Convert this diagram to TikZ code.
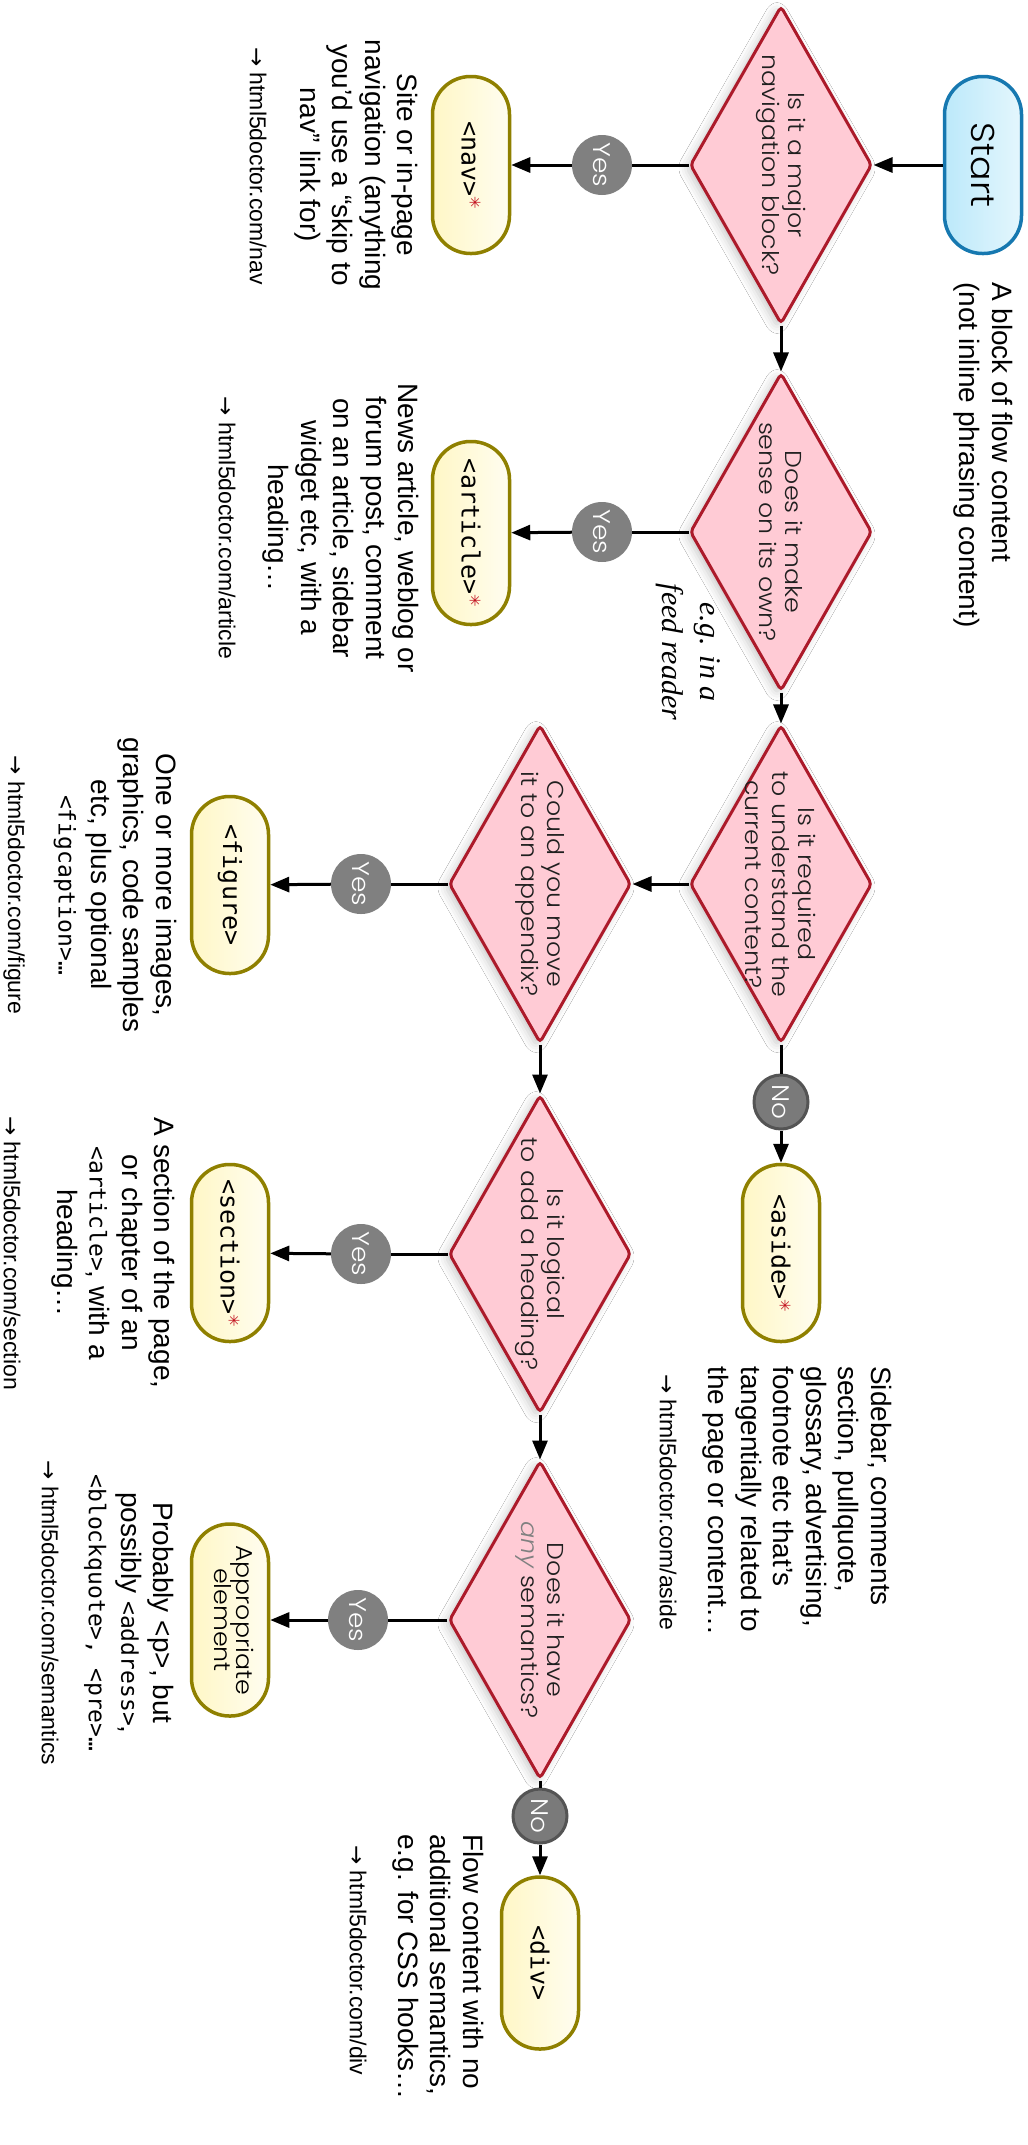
\documentclass[tikz,border=0pt]{standalone}
\usepackage{fontspec}
\usepackage{graphicx}
\usetikzlibrary{shapes.geometric,arrows.meta,shadows.blur}
\setmainfont{Liberation Sans}
\IfFontExistsTF{Poppins Light}{\newfontfamily\geo{Poppins Light}[FakeStretch=1.1]}{\newfontfamily\geo{Poppins}[FakeStretch=1.05]}
\newfontfamily\mono{DejaVu Sans Mono}
\newfontfamily\serfont{Liberation Serif}
\newfontfamily\arrfont{DejaVu Sans}
\definecolor{dfill}{RGB}{255,203,213}
\definecolor{dline}{RGB}{172,26,42}
\definecolor{tyA}{RGB}{255,247,198}
\definecolor{tyB}{RGB}{255,253,240}
\definecolor{tline}{RGB}{143,128,0}
\definecolor{sbA}{RGB}{188,233,250}
\definecolor{sbB}{RGB}{228,246,253}
\definecolor{sline}{RGB}{22,120,176}
\definecolor{ygray}{RGB}{128,128,128}
\definecolor{ngray}{RGB}{122,122,122}
\definecolor{nline}{RGB}{84,84,84}
\definecolor{astc}{RGB}{196,20,34}
\newcommand{\redast}{\raisebox{8pt}{\arrfont\fontsize{15}{15}\selectfont\color{astc}✳}}
\newcommand{\lnk}[1]{{\arrfont →} html5doctor.com/#1}
\tikzset{
  dia/.style={diamond, draw=dline, fill=dfill, line width=3pt,
    minimum width=182pt, minimum height=318pt, inner sep=0pt, rounded corners=4pt,
    blur shadow={shadow xshift=-4pt, shadow yshift=-3pt, shadow blur radius=9pt, shadow opacity=22}},
  qtext/.style={rotate=-90, align=center, inner sep=0pt, text=black!88,
    font=\geo\fontsize{23}{26.5}\selectfont},
  term/.style={rectangle, rounded corners=38pt, draw=tline, line width=3.5pt,
    left color=tyA, right color=tyB, minimum width=77pt, minimum height=177pt,
    inner sep=0pt, font=\mono\fontsize{25}{30}\selectfont},
  startbox/.style={term, draw=sline, left color=sbA, right color=sbB,
    font=\geo\fontsize{33}{36}\selectfont},
  yesc/.style={circle, fill=ygray, minimum size=60pt, inner sep=0pt, text=white,
    font=\geo\fontsize{24}{26}\selectfont},
  noc/.style={circle, fill=ngray, draw=nline, line width=3pt, minimum size=54pt,
    inner sep=0pt, text=white, font=\geo\fontsize{24}{26}\selectfont},
  desc/.style={rotate=-90, align=center, inner sep=0pt, font=\fontsize{28}{32.5}\selectfont},
  descl/.style={rotate=-90, align=left, anchor=west, inner sep=0pt, font=\fontsize{28}{32.5}\selectfont},
  lnkst/.style={rotate=-90, inner sep=0pt, font=\fontsize{23}{26}\selectfont},
  conn/.style={line width=3pt},
  arrow/.style={line width=3pt, -{Triangle[length=19pt,width=15pt]}},
}
\begin{document}
\begin{tikzpicture}[x=1pt,y=-1pt]
\useasboundingbox[fill=white] (0,0) rectangle (1028,2145);

% start
\node[startbox] (start) at (983,165) {\rotatebox{-90}{Start}};
\node[descl] (block) at (983,282) {A block of flow content\\(not inline phrasing content)};

% diamonds
\node[dia] (d1) at (781,165) {};
\node[qtext] (d1t) at (d1) {Is it a major\\navigation block?};
\node[dia] (d2) at (781,532) {};
\node[qtext] (d2t) at (d2) {Does it make\\sense on its own?};
\node[dia] (d3) at (781,884) {};
\node[qtext] (d3t) at (d3) {Is it required\\to understand the\\current content?};
\node[dia] (d4) at (540,884) {};
\node[qtext] (d4t) at (d4) {Could you move\\it to an appendix?};
\node[dia] (d5) at (540,1254) {};
\node[qtext] (d5t) at (d5) {Is it logical\\to add a heading?};
\node[dia] (d6) at (540,1620) {};
\node[qtext] (d6t) at (d6) {Does it have\\{\color{black!50}\itshape any} semantics?};

\node[rotate=-90, align=center, inner sep=0pt, font=\serfont\itshape\fontsize{30}{38}\selectfont] (eg) at (688,652) {e.g. in a\\feed reader};

% terminals
\node[term] (nav) at (471,165) {\rotatebox{-90}{<nav>\redast}};
\node[term, minimum height=183pt] (art) at (471,533) {\rotatebox{-90}{<article>\redast}};
\node[term] (fig) at (230,885) {\rotatebox{-90}{<figure>}};
\node[term] (sec) at (230,1253) {\rotatebox{-90}{<section>\redast}};
\node[term, minimum height=192pt, font=\geo\fontsize{23}{25}\selectfont] (appr) at (230,1620) {\rotatebox{-90}{\begin{tabular}{@{}c@{}}Appropriate\\[-3pt]element\end{tabular}}};
\node[term] (aside) at (781,1253) {\rotatebox{-90}{<aside>\redast}};
\node[term, minimum height=172pt] (div) at (540,1963) {\rotatebox{-90}{<div>}};

% yes / no
\node[yesc] (y1) at (602,165) {\rotatebox{-90}{Yes}};
\node[yesc] (y2) at (602,532) {\rotatebox{-90}{Yes}};
\node[yesc] (y3) at (361,884) {\rotatebox{-90}{Yes}};
\node[yesc] (y4) at (361,1254) {\rotatebox{-90}{Yes}};
\node[yesc] (y5) at (358,1620) {\rotatebox{-90}{Yes}};
\node[noc] (n1) at (781,1102) {\rotatebox{-90}{No}};
\node[noc] (n2) at (540,1816) {\rotatebox{-90}{No}};

% descriptions
\node[desc] (navd) at (356,165) {Site or in-page\\navigation (anything\\you’d use a “skip to\\nav” link for)};
\node[lnkst] (navl) at (258,166) {\lnk{nav}};
\node[desc] (artd) at (341,528) {News article, weblog or\\forum post, comment\\on an article, sidebar\\widget etc, with a\\heading…};
\node[lnkst] (artl) at (227,528) {\lnk{article}};
\node[desc] (figd) at (115,885) {One or more images,\\graphics, code samples\\etc, plus optional\\{\mono\fontsize{23}{28}\selectfont <figcaption>…}};
\node[lnkst] (figl) at (14,885) {\lnk{figure}};
\node[desc] (secd) at (113,1253) {A section of the page,\\or chapter of an\\{\mono\fontsize{23}{28}\selectfont <article>}, with a\\heading…};
\node[lnkst] (secl) at (12,1253) {\lnk{section}};
\node[desc] (apprd) at (129,1613) {Probably <p>, but\\possibly {\mono\fontsize{23}{28}\selectfont <address>},\\{\mono\fontsize{23}{28}\selectfont <blockquote>, <pre>…}};
\node[lnkst] (apprl) at (50,1613) {\lnk{semantics}};
\node[descl] (asided) at (797,1366) {Sidebar, comments\\section, pullquote,\\glossary, advertising,\\footnote etc that’s\\tangentially related to\\the page or content…};
\node[lnkst, anchor=west] (asidel) at (668,1374) {\lnk{aside}};
\node[descl] (divd) at (438,1834) {Flow content with no\\additional semantics,\\e.g. for CSS hooks…};
\node[lnkst, anchor=west] (divl) at (358,1845) {\lnk{div}};

% connectors
\draw[arrow] (start) -- (d1);
\draw[conn] (d1) -- (y1); \draw[arrow] (y1) -- (nav);
\draw[arrow] (d1) -- (d2);
\draw[conn] (d2) -- (y2); \draw[arrow] (y2) -- (art);
\draw[arrow] (d2) -- (d3);
\draw[arrow] (d3) -- (d4);
\draw[conn] (d3) -- (n1); \draw[arrow] (n1) -- (aside);
\draw[conn] (d4) -- (y3); \draw[arrow] (y3) -- (fig);
\draw[arrow] (d4) -- (d5);
\draw[conn] (d5) -- (y4); \draw[arrow] (y4) -- (sec);
\draw[arrow] (d5) -- (d6);
\draw[conn] (d6) -- (y5); \draw[arrow] (y5) -- (appr);
\draw[conn] (d6) -- (n2); \draw[arrow] (n2) -- (div);
\end{tikzpicture}
\end{document}
